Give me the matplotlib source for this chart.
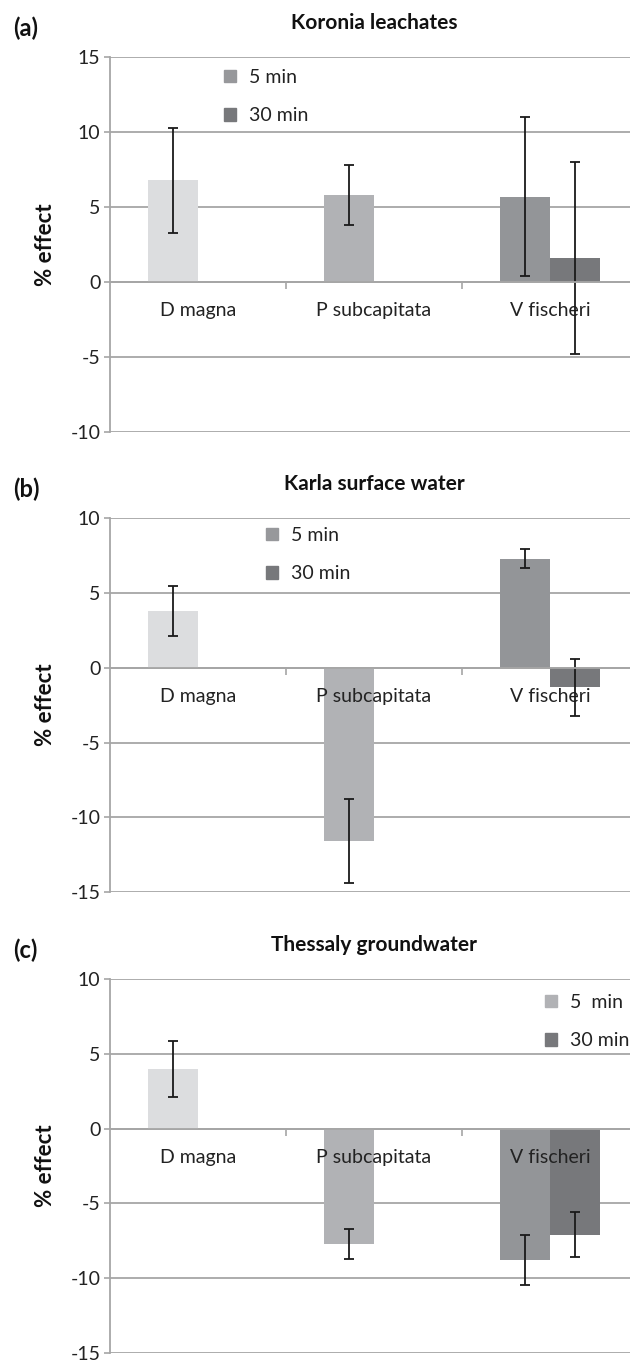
import numpy as np
import matplotlib
matplotlib.use("Agg")
import matplotlib.pyplot as plt
from matplotlib.patches import Patch

plt.rcParams["font.family"] = ["Lato", "DejaVu Sans"]
plt.rcParams["axes.unicode_minus"] = False

species = ["D magna", "P subcapitata", "V fischeri"]
legend_labels = ["5 min", "30 min"]

# Koronia leachates
koronia_5 = [6.8, 5.8, 5.7]
koronia_5_err = [3.5, 2.0, 5.3]
koronia_30 = [np.nan, np.nan, 1.6]
koronia_30_err = [np.nan, np.nan, 6.4]

# Karla surface water
karla_5 = [3.8, -11.6, 7.3]
karla_5_err = [1.7, 2.8, 0.63]
karla_30 = [np.nan, np.nan, -1.3]
karla_30_err = [np.nan, np.nan, 1.9]

# Thessaly groundwater
thessaly_5 = [4.0, -7.7, -8.8]
thessaly_5_err = [1.9, 1.0, 1.7]
thessaly_30 = [np.nan, np.nan, -7.1]
thessaly_30_err = [np.nan, np.nan, 1.5]

colors_5 = ["#dcdddf", "#b1b2b5", "#939598"]
color_30 = "#77787b"
grid_col = "#a6a6a6"

W, H = 630, 1360
fig = plt.figure(figsize=(W / 100, H / 100), dpi=100)


def px_rect(left, top, right, bottom):
    return [left / W, 1 - bottom / H, (right - left) / W, (bottom - top) / H]


def panel(rect, letter, title, v5, e5, v30, e30, ylim, leg_xy, leg_col5, lab5):
    ax = fig.add_axes(px_rect(*rect))
    x = np.arange(len(species)) + 0.5
    w = 0.285
    ekw = dict(elinewidth=1.3, capsize=3.5, capthick=1.3, ecolor="#1a1a1a")
    ax.bar(x - w / 2, v5, w, color=colors_5, yerr=e5, error_kw=ekw, zorder=3)
    ax.bar(x + w / 2, v30, w, color=color_30, yerr=e30, error_kw=ekw, zorder=3)

    ax.set_xlim(0, 3)
    ax.set_ylim(*ylim)
    ax.set_yticks(np.arange(ylim[0], ylim[1] + 1, 5))
    ax.yaxis.grid(True, color=grid_col, linewidth=1.3, zorder=0)
    ax.set_axisbelow(True)
    for s in ["top", "right"]:
        ax.spines[s].set_visible(False)
    ax.spines["left"].set_color(grid_col)
    ax.spines["left"].set_linewidth(1.3)
    ax.spines["bottom"].set_position(("data", 0))
    ax.spines["bottom"].set_color(grid_col)
    ax.spines["bottom"].set_linewidth(1.3)
    ax.spines["bottom"].set_zorder(4)
    ax.tick_params(axis="y", length=4, width=1.2, color=grid_col, pad=3,
                   labelsize=14, labelcolor="#222222")
    ax.set_xticks([1, 2])
    ax.set_xticklabels([])
    ax.tick_params(axis="x", length=5, width=1.2, color=grid_col)
    for xi, name in zip(x, species):
        ax.annotate(name, xy=(xi, 0), xytext=(0, -20.5), textcoords="offset points",
                    ha="center", va="center", fontsize=14, color="#222222")

    cx = (rect[0] + rect[2]) / 2
    fig.text(cx / W, 1 - (rect[1] - 34) / H, title, ha="center", va="center",
             fontsize=15, fontweight="bold", color="#111111")
    fig.text(13 / W, 1 - (rect[1] - 29) / H, letter, ha="left", va="center",
             fontsize=17, fontweight="bold", color="#111111")
    fig.text(46 / W, 1 - (rect[1] + rect[3]) / 2 / H, "% effect", rotation=90,
             ha="center", va="center", fontsize=16, fontweight="bold", color="#111111")

    handles = [Patch(color=leg_col5), Patch(color=color_30)]
    fig.legend(handles, [lab5, legend_labels[1]], loc="upper left",
               bbox_to_anchor=(leg_xy[0] / W, 1 - leg_xy[1] / H),
               frameon=False, fontsize=14, handlelength=0.62, handleheight=0.62,
               handletextpad=0.65, labelspacing=1.1, borderpad=0, borderaxespad=0,
               labelcolor="#222222")
    return ax


panel((110, 57.3, 638, 431.7), "(a)", "Koronia leachates",
      koronia_5, koronia_5_err, koronia_30, koronia_30_err,
      (-10, 15), (224, 69), "#97989b", legend_labels[0])
panel((110, 518.3, 638, 892), "(b)", "Karla surface water",
      karla_5, karla_5_err, karla_30, karla_30_err,
      (-15, 10), (266, 527), "#97989b", legend_labels[0])
panel((110, 979.3, 638, 1352.7), "(c)", "Thessaly groundwater",
      thessaly_5, thessaly_5_err, thessaly_30, thessaly_30_err,
      (-15, 10), (545, 994), "#b1b2b5", "5  min")

fig.savefig("out.png", dpi=100)
